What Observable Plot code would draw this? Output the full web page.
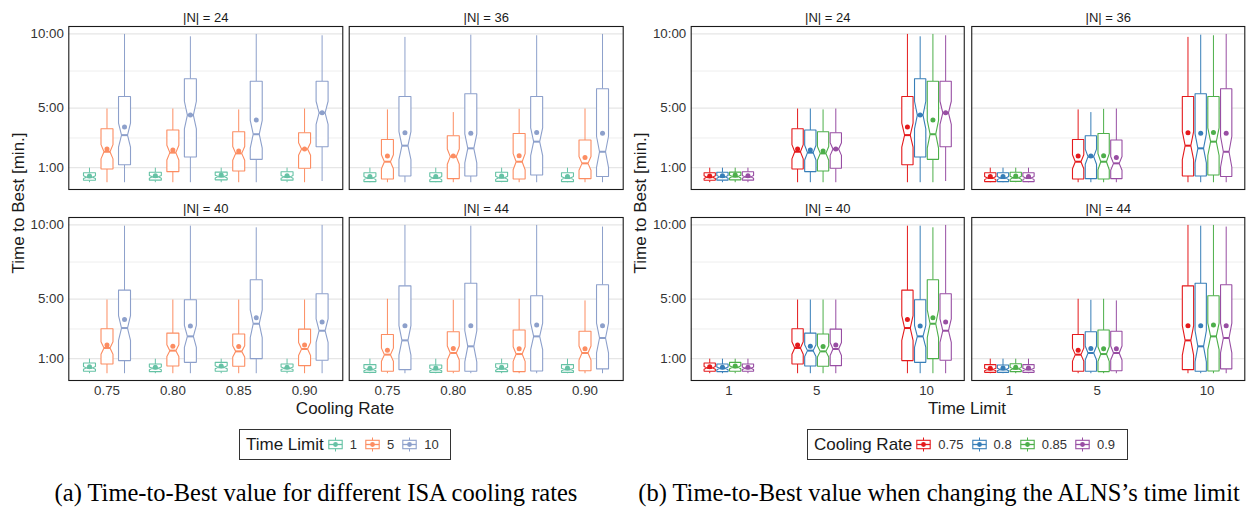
<!DOCTYPE html>
<html><head><meta charset="utf-8">
<script src="https://cdn.jsdelivr.net/npm/d3@7"></script>
<script src="https://cdn.jsdelivr.net/npm/@observablehq/plot@0.6"></script>
<style>
body{margin:0;background:#fff;}
#wrap{position:relative;width:1253px;height:510px;overflow:hidden;font-family:"Liberation Sans",Arial,sans-serif;color:#1a1a1a;}
#wrap svg g[aria-label$="tick label"]{font-size:13.3px;fill:#333;}
.title{position:absolute;font-size:17px;line-height:1;white-space:nowrap;transform:translate(-50%,-50%);}
.ytitle{position:absolute;font-size:17px;line-height:1;white-space:nowrap;transform:translate(-50%,-50%) rotate(-90deg);}
.legend{position:absolute;box-sizing:border-box;border:1px solid #333;height:31px;display:flex;align-items:center;padding-left:6px;}
.legend .lt{font-size:17px;margin-right:3px;}
.legend .ll{font-size:13px;margin-left:6px;margin-right:7px;color:#333;}
.legend svg{display:block;}
.cap{position:absolute;font-family:"Liberation Serif","Times New Roman",serif;font-size:24.5px;line-height:30px;white-space:nowrap;transform:translateX(-50%);color:#000;}
</style></head><body><div id="wrap"></div><script>
// ---- data ----
const sizes = [24, 36, 40, 44];
const coolingRates = [0.75, 0.80, 0.85, 0.90];
const coolingAxisLabels = ["0.75", "0.80", "0.85", "0.90"];
const coolingLegendLabels = ["0.75", "0.8", "0.85", "0.9"];
const timeLimits = [1, 5, 10];
const yTicks = [1, 5, 10];
const yTickLabels = ["1:00", "5:00", "10:00"];
const yMinor = [3, 7.5];
const set2 = ["#66c2a5", "#fc8d62", "#8da0cb"];
const set1 = ["#e41a1c", "#377eb8", "#4daf4a", "#984ea3"];
const sampleSize = 80;
// stats in minutes, indexed [size][timeLimit][coolingRate]
const q1 = [
 [[0.15,0.16,0.18,0.16],[0.91,0.73,0.78,0.96],[1.20,1.72,1.56,2.41]],
 [[0.06,0.06,0.08,0.06],[0.24,0.26,0.24,0.26],[0.44,0.44,0.51,0.40]],
 [[0.15,0.13,0.15,0.15],[0.64,0.51,0.49,0.53],[0.87,0.75,1.00,0.89]],
 [[0.08,0.08,0.13,0.08],[0.15,0.15,0.13,0.19],[0.26,0.15,0.17,0.31]]
];
const med = [
 [[0.36,0.38,0.40,0.38],[2.07,2.01,1.96,2.25],[3.19,4.54,3.25,4.69]],
 [[0.30,0.30,0.32,0.30],[1.40,1.74,1.40,1.29],[2.48,2.30,2.75,2.07]],
 [[0.38,0.35,0.42,0.35],[1.72,1.54,1.49,1.65],[3.06,2.50,3.35,2.88]],
 [[0.27,0.27,0.32,0.27],[1.27,1.38,1.31,1.38],[2.23,1.83,2.50,2.39]]
];
const q3 = [
 [[0.66,0.69,0.70,0.72],[3.62,3.53,3.42,3.35],[5.79,6.98,6.82,6.82]],
 [[0.66,0.66,0.69,0.66],[2.90,3.15,3.30,2.86],[5.79,5.97,5.79,6.31]],
 [[0.71,0.64,0.75,0.64],[3.01,2.72,2.66,2.99],[5.61,4.96,6.31,5.37]],
 [[0.60,0.57,0.66,0.60],[2.63,2.81,2.93,2.84],[5.90,6.08,5.23,5.97]]
];
const mean = [
 [[0.44,0.46,0.50,0.46],[2.25,2.19,2.12,2.25],[3.73,4.54,4.20,4.69]],
 [[0.40,0.40,0.44,0.40],[1.78,1.78,1.80,1.69],[3.35,3.31,3.37,3.31]],
 [[0.46,0.42,0.51,0.42],[1.92,1.83,1.81,1.92],[3.64,3.19,3.75,3.46]],
 [[0.35,0.37,0.42,0.37],[1.56,1.69,1.67,1.67],[3.22,3.22,3.26,3.22]]
];
const hi = [
 [[1.00,1.00,1.00,1.00],[4.98,4.98,4.92,4.98],[10.00,9.84,10.00,9.91]],
 [[1.00,1.00,1.00,1.00],[4.92,4.74,4.96,4.98],[9.80,9.95,9.91,10.00]],
 [[1.00,1.00,1.00,1.00],[4.98,4.98,4.98,4.98],[9.95,9.95,9.84,10.00]],
 [[1.00,1.00,1.00,1.00],[5.03,4.96,5.03,4.92],[10.00,9.95,10.00,9.89]]
];
const lo = [
 [[0.02,0.02,0.02,0.02],[0.02,0.02,0.02,0.02],[0.02,0.02,0.02,0.10]],
 [[0.02,0.02,0.02,0.02],[0.02,0.02,0.02,0.02],[0.02,0.02,0.02,0.02]],
 [[0.02,0.02,0.02,0.02],[0.02,0.02,0.02,0.02],[0.02,0.02,0.02,0.02]],
 [[0.02,0.02,0.02,0.02],[0.02,0.02,0.02,0.02],[0.02,0.02,0.02,0.02]]
];

// ---- table ----
const rows = [];
sizes.forEach((n, i) => timeLimits.forEach((t, j) => coolingRates.forEach((c, k) => {
  const a = q1[i][j][k], b = q3[i][j][k];
  rows.push({n, t, c, i, j, k, col: i % 2, row: Math.floor(i / 2),
    lo: lo[i][j][k], q1: a, med: med[i][j][k], q3: b, hi: hi[i][j][k], mean: mean[i][j][k],
    notch: 1.58 * (b - a) / Math.sqrt(sampleSize)});
})));
const panels = sizes.map((n, i) => ({label: `|N| = ${n}`, col: i % 2, row: Math.floor(i / 2)}));

function boxMarks(cx, w, key) {
  const poly = [];
  rows.forEach((d, id) => {
    const x = cx(d), a = x - w / 2, b = x + w / 2, ni = w / 4;
    const nu = d.med + d.notch, nl = d.med - d.notch;
    [[a, d.q3], [a, nu], [a + ni, d.med], [a, nl], [a, d.q1], [b, d.q1], [b, nl], [b - ni, d.med], [b, nu], [b, d.q3], [a, d.q3]]
      .forEach(([px, py]) => poly.push({id, x: px, y: py, col: d.col, row: d.row, key: d[key]}));
  });
  const f = {fx: "col", fy: "row"};
  return [
    Plot.link(rows, {x1: cx, x2: cx, y1: "q3", y2: "hi", stroke: key, strokeWidth: 1, ...f}),
    Plot.link(rows, {x1: cx, x2: cx, y1: "lo", y2: "q1", stroke: key, strokeWidth: 1, ...f}),
    Plot.line(poly, {x: "x", y: "y", z: "id", stroke: "key", fill: "white", strokeWidth: 1.1, strokeLinejoin: "miter", ...f}),
    Plot.link(rows, {x1: d => cx(d) - w / 4, x2: d => cx(d) + w / 4, y1: "med", y2: "med", stroke: key, strokeWidth: 2, ...f}),
    Plot.dot(rows, {x: cx, y: "mean", fill: key, r: 2.5, ...f})
  ];
}

function common(marginLeft, marginRight, padX) {
  return {
    width: 0, height: 420, marginLeft, marginRight, marginTop: 26, marginBottom: 40,
    fx: {axis: null, domain: [0, 1], paddingInner: padX, paddingOuter: 0, round: false},
    fy: {axis: null, domain: [0, 1], paddingInner: 0.1466, paddingOuter: 0, round: false},
    y: {domain: [-0.47, 10.5], ticks: yTicks, tickFormat: v => yTickLabels[yTicks.indexOf(v)], tickSize: 0, tickPadding: 5, label: null},
    style: {fontFamily: "Liberation Sans, Arial, sans-serif", fontSize: "13px", color: "#333", background: "transparent"}
  };
}
function baseMarks() {
  return [
    Plot.ruleY(yMinor, {stroke: "#ececec", strokeWidth: 0.9}),
    Plot.ruleY(yTicks, {stroke: "#e6e6e6", strokeWidth: 1.2})
  ];
}
function topMarks() {
  return [
    Plot.frame({stroke: "#1a1a1a", strokeWidth: 1.1}),
    Plot.text(panels, {text: "label", fx: "col", fy: "row", frameAnchor: "top", lineAnchor: "bottom", dy: -5, fill: "#1a1a1a", fontSize: 13})
  ];
}

// left: x = cooling rate, colour = time limit
const leftOpts = common(68.3, 7.3, 0.023);
leftOpts.width = 630;
leftOpts.x = {domain: [-0.58, 3.58], ticks: [0, 1, 2, 3], tickFormat: i => coolingAxisLabels[i], tickSize: 0, tickPadding: 5, label: null};
leftOpts.color = {domain: timeLimits, range: set2};
leftOpts.marks = [...baseMarks(), ...boxMarks(d => d.k + (d.j - 1) * 0.266, 0.182, "t"), ...topMarks()];
const left = Plot.plot(leftOpts);

// right: x = time limit, colour = cooling rate
const rightOpts = common(68.7, 8.7, 0.0267);
rightOpts.width = 631;
rightOpts.x = {domain: [-0.713, 11.717], ticks: timeLimits, tickFormat: v => String(v), tickSize: 0, tickPadding: 5, label: null};
rightOpts.color = {domain: coolingRates, range: set1};
rightOpts.marks = [...baseMarks(), ...boxMarks(d => d.t + (d.k - 1.5) * 0.58, 0.514, "c"), ...topMarks()];
const right = Plot.plot(rightOpts);

const wrap = document.getElementById("wrap");
left.style.position = "absolute"; left.style.left = "0px"; left.style.top = "0px";
right.style.position = "absolute"; right.style.left = "622px"; right.style.top = "0px";
wrap.appendChild(left); wrap.appendChild(right);

function addText(cls, txt, x, y) {
  const e = document.createElement("div"); e.className = cls; e.textContent = txt;
  e.style.left = x + "px"; e.style.top = y + "px"; wrap.appendChild(e); return e;
}
addText("title", "Cooling Rate", 345, 408);
addText("title", "Time Limit", 967, 408);
addText("ytitle", "Time to Best [min.]", 18, 203);
addText("ytitle", "Time to Best [min.]", 640, 203);

function glyph(color) {
  const ns = "http://www.w3.org/2000/svg";
  const s = document.createElementNS(ns, "svg");
  s.setAttribute("width", 17); s.setAttribute("height", 17);
  s.innerHTML = `<line x1="8.5" x2="8.5" y1="1.5" y2="15.5" stroke="${color}" stroke-width="1"/>` +
    `<rect x="1.8" y="4.3" width="13.4" height="8.4" fill="white" stroke="${color}" stroke-width="1.1"/>` +
    `<line x1="1.8" x2="15.2" y1="8.5" y2="8.5" stroke="${color}" stroke-width="1.3"/>` +
    `<circle cx="8.5" cy="8.5" r="2.4" fill="${color}"/>`;
  return s;
}
function legend(x, w, title, labels, colors) {
  const L = document.createElement("div"); L.className = "legend";
  L.style.left = x + "px"; L.style.top = "429px"; L.style.width = w + "px";
  const t = document.createElement("span"); t.className = "lt"; t.textContent = title; L.appendChild(t);
  labels.forEach((lab, i) => {
    L.appendChild(glyph(colors[i]));
    const s = document.createElement("span"); s.className = "ll"; s.textContent = lab; L.appendChild(s);
  });
  wrap.appendChild(L);
}
legend(239, 212, "Time Limit", timeLimits.map(String), set2);
legend(807, 321, "Cooling Rate", coolingLegendLabels, set1);

addText("cap", "(a) Time-to-Best value for different ISA cooling rates", 316, 478);
addText("cap", "(b) Time-to-Best value when changing the ALNS\u2019s time limit", 939, 478);
</script></body></html>
